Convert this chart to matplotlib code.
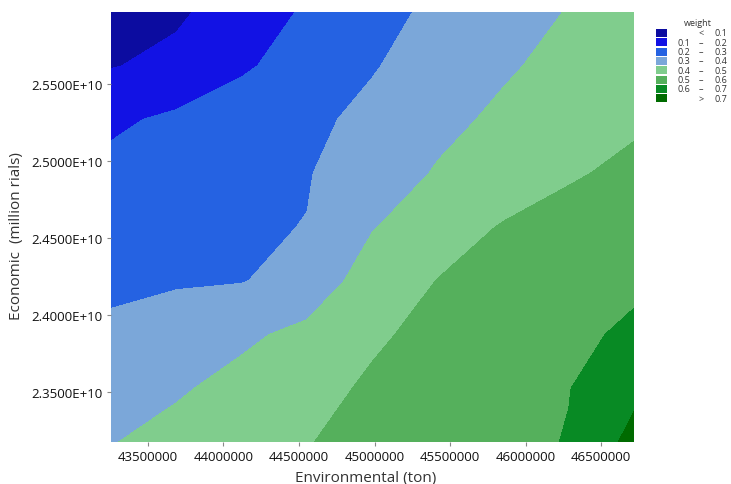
import numpy as np
import matplotlib
matplotlib.use("Agg")
import matplotlib.pyplot as plt
from matplotlib.patches import Rectangle

plt.rcParams["font.family"] = ["Open Sans", "DejaVu Sans"]

# grid (x: environmental, y: economic, top row first)
env_ton = [43255000, 43688000, 44121000, 44554000, 44987000,
           45420000, 45853000, 46286000, 46718500]
econ_rials = [2.59675e10, 2.56185e10, 2.52695e10, 2.49205e10, 2.45715e10,
              2.42225e10, 2.38735e10, 2.35245e10, 2.31755e10]
weight = [
    [0.040, 0.085, 0.147, 0.212, 0.270, 0.319, 0.361, 0.404, 0.440],
    [0.095, 0.125, 0.187, 0.241, 0.294, 0.341, 0.388, 0.428, 0.465],
    [0.184, 0.217, 0.250, 0.281, 0.322, 0.375, 0.418, 0.454, 0.489],
    [0.224, 0.248, 0.271, 0.295, 0.350, 0.408, 0.449, 0.492, 0.516],
    [0.254, 0.272, 0.290, 0.302, 0.395, 0.458, 0.506, 0.527, 0.548],
    [0.283, 0.290, 0.296, 0.335, 0.450, 0.502, 0.528, 0.553, 0.579],
    [0.316, 0.350, 0.382, 0.425, 0.488, 0.523, 0.552, 0.575, 0.620],
    [0.358, 0.389, 0.429, 0.473, 0.512, 0.540, 0.569, 0.597, 0.677],
    [0.396, 0.430, 0.464, 0.497, 0.524, 0.550, 0.570, 0.605, 0.730],
]

levels = [0.0, 0.1, 0.2, 0.3, 0.4, 0.5, 0.6, 0.7, 1.0]
band_labels = [("", "<", "0.1"), ("0.1", "\u2013", "0.2"), ("0.2", "\u2013", "0.3"),
               ("0.3", "\u2013", "0.4"), ("0.4", "\u2013", "0.5"), ("0.5", "\u2013", "0.6"),
               ("0.6", "\u2013", "0.7"), ("", ">", "0.7")]
band_colors = ["#0c0ca0", "#1212e4", "#2562e2", "#7ba7d9",
               "#80cd8d", "#55b05c", "#088a24", "#006b00"]

x_ticks = [43500000, 44000000, 44500000, 45000000, 45500000, 46000000, 46500000]
y_ticks = [2.35e10, 2.40e10, 2.45e10, 2.50e10, 2.55e10]

fig = plt.figure(figsize=(7.31, 4.85), dpi=100)
ax = fig.add_axes([111 / 731, 1 - 443 / 485, 523 / 731, 430 / 485])

X, Y = np.meshgrid(env_ton, econ_rials[::-1])
Z = np.flipud(np.array(weight))
ax.contourf(X, Y, Z, levels=levels, colors=band_colors, antialiased=False)

ax.set_xlim(env_ton[0], env_ton[-1])
ax.set_ylim(econ_rials[-1], econ_rials[0])
ax.set_xticks(x_ticks)
ax.set_xticklabels([str(v) for v in x_ticks])
ax.set_yticks(y_ticks)
ax.set_yticklabels(["%.4fE+10" % (v / 1e10) for v in y_ticks])
ax.tick_params(axis="both", length=3, width=0.8, color="#888888",
               labelsize=9.5, pad=3, labelcolor="#111111")
for s in ax.spines.values():
    s.set_visible(False)

ax.set_xlabel("Environmental (ton)", fontsize=11, color="#333333")
ax.xaxis.set_label_coords(0.486, -0.065)
ax.set_ylabel("Economic  (million rials)", fontsize=11, color="#333333")
ax.yaxis.set_label_coords(-0.166, 0.481)

# legend
fig.text(698 / 731, 1 - 24 / 485, "weight", ha="center", va="center",
         fontsize=6.5, color="#333333")
for i, (lo, sym, hi) in enumerate(band_labels):
    yc = 34 + i * 9.3
    fig.patches.append(Rectangle((656 / 731, 1 - (yc + 4) / 485), 11 / 731, 8 / 485,
                                 transform=fig.transFigure, facecolor=band_colors[i],
                                 edgecolor="none"))
    yy = 1 - yc / 485
    if lo:
        fig.text(690 / 731, yy, lo, ha="right", va="center", fontsize=6.5, color="#333333")
    fig.text(701 / 731, yy, sym, ha="center", va="center", fontsize=6.5, color="#333333")
    fig.text(727 / 731, yy, hi, ha="right", va="center", fontsize=6.5, color="#333333")

fig.savefig("out.png", dpi=100)
